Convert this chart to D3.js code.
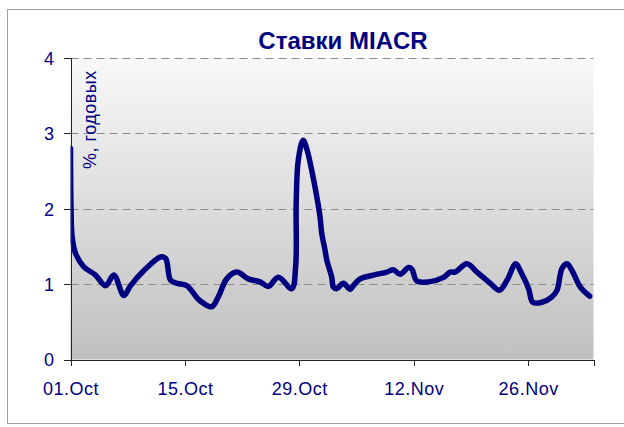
<!DOCTYPE html>
<html>
<head>
<meta charset="utf-8">
<script src="https://cdn.jsdelivr.net/npm/d3@7"></script>
<style>
  body { margin: 0; background: #ffffff; }
  svg { display: block; font-family: "Liberation Sans", Arial, sans-serif; }
  .axis path, .axis line { stroke: #222222; shape-rendering: crispEdges; }
  .axis text { fill: #000080; font-size: 18px; letter-spacing: 0.5px; }
</style>
</head>
<body>
<svg id="svg1" width="624" height="427"></svg>
<script>
var svgId = "#svg1";

// days since 01.Oct and MIACR rate (% p.a.)
var days = [0.00, 0.07, 0.20, 0.61, 1.63, 3.06, 4.29, 5.30, 6.53, 7.35,
  8.98, 11.03, 11.64, 12.25, 13.06, 14.21, 15.84, 17.27, 18.08, 19.11,
  20.34, 21.76, 23.19, 24.21, 25.43, 27.07, 27.56, 27.62, 27.88, 28.46,
  28.95, 29.52, 30.14, 30.54, 30.75, 31.15, 31.36, 31.97, 32.17, 32.59,
  33.39, 34.22, 34.62, 35.44, 37.07, 38.71, 39.52, 40.34, 41.36, 41.77,
  42.39, 43.81, 45.65, 46.47, 47.08, 48.51, 49.74, 51.37, 52.50, 53.41,
  54.49, 55.16, 56.06, 56.57, 57.70, 58.92, 59.54, 60.15, 60.76, 61.37,
  62.39, 63.53];
var rates = [2.80, 1.98, 1.63, 1.41, 1.23, 1.12, 0.98, 1.12, 0.85, 0.98,
  1.18, 1.36, 1.34, 1.05, 1.01, 0.98, 0.78, 0.70, 0.83, 1.07,
  1.16, 1.07, 1.03, 0.97, 1.09, 0.94, 1.25, 2.09, 2.65, 2.91,
  2.78, 2.51, 2.16, 1.89, 1.67, 1.45, 1.32, 1.09, 0.96, 0.94,
  1.01, 0.93, 0.98, 1.07, 1.12, 1.16, 1.19, 1.13, 1.22, 1.20,
  1.04, 1.03, 1.09, 1.16, 1.16, 1.27, 1.16, 1.01, 0.92, 1.05,
  1.27, 1.15, 0.94, 0.76, 0.76, 0.83, 0.92, 1.21, 1.27, 1.18,
  0.96, 0.84];

var xTicks = [0, 14, 28, 42, 56];
var xTickLabels = ["01.Oct", "15.Oct", "29.Oct", "12.Nov", "26.Nov"];
var yTicks = [0, 1, 2, 3, 4];

var title = "Ставки MIACR";
var yTitle = "%, годовых";

var params = {
  "svg": { "width": 624, "height": 427 },
  "plot": { "x": 70.5, "y": 58, "width": 523, "height": 301.5 }
};

var scale = {
  "x": d3.scaleLinear().domain([0, 64]).range([0, params.plot.width]),
  "y": d3.scaleLinear().domain([0, 4]).range([params.plot.height, 0])
};

var axis = {
  "x": d3.axisBottom(scale.x)
    .tickValues(xTicks)
    .tickSize(6)
    .tickPadding(17)
    .tickFormat(function(d, i) { return xTickLabels[i]; }),
  "y": d3.axisLeft(scale.y)
    .tickValues(yTicks)
    .tickSize(7)
    .tickPadding(9)
    .tickFormat(d3.format("d"))
};

translate = function(x, y) {
  return "translate(" + x + "," + y + ")";
}

var svg = d3.select(svgId);

// outer chart frame
svg.append("rect")
  .attr("x", 7.5)
  .attr("y", 9.5)
  .attr("width", 620)
  .attr("height", 414)
  .attr("fill", "#ffffff")
  .attr("stroke", "#a0a0a0")
  .attr("stroke-width", 1);

var defs = svg.append("defs");
var grad = defs.append("linearGradient")
  .attr("id", "bg")
  .attr("x1", 0).attr("y1", 0)
  .attr("x2", 0).attr("y2", 1);
grad.append("stop").attr("offset", "0%").attr("stop-color", "#f8f8f8");
grad.append("stop").attr("offset", "100%").attr("stop-color", "#c0c0c0");

defs.append("clipPath")
  .attr("id", "clip")
  .append("rect")
  .attr("x", 0)
  .attr("y", -10)
  .attr("width", params.plot.width)
  .attr("height", params.plot.height + 10);

var plot = svg.append("g")
  .attr("transform", translate(params.plot.x, params.plot.y));

plot.append("rect")
  .attr("x", 0)
  .attr("y", 0)
  .attr("width", params.plot.width)
  .attr("height", params.plot.height)
  .attr("fill", "url(#bg)");

// dashed grid lines
plot.selectAll("line.grid")
  .data(yTicks.slice(1))
  .enter()
  .append("line")
  .attr("class", "grid")
  .attr("x1", 0)
  .attr("x2", params.plot.width)
  .attr("y1", function(d) { return Math.round(scale.y(d)) + 0.5; })
  .attr("y2", function(d) { return Math.round(scale.y(d)) + 0.5; })
  .attr("stroke", "#8c8c8c")
  .attr("stroke-width", 1)
  .attr("stroke-dasharray", "8,5");

var gx = svg.append("g")
  .attr("class", "axis")
  .attr("transform", translate(params.plot.x, params.plot.y + params.plot.height))
  .call(axis.x);
gx.select(".domain").attr("stroke", "#333333");

var gy = svg.append("g")
  .attr("class", "axis")
  .attr("transform", translate(params.plot.x, params.plot.y))
  .call(axis.y);
gy.selectAll("text").attr("dy", "0.36em");

// rate line
var points = days.map(function(d, i) { return [d, rates[i]]; });
var line = d3.line()
  .x(function(d) { return scale.x(d[0]); })
  .y(function(d) { return scale.y(d[1]); })
  .curve(d3.curveCatmullRom.alpha(0.5));

plot.append("path")
  .datum(points)
  .attr("clip-path", "url(#clip)")
  .attr("d", line)
  .attr("fill", "none")
  .attr("stroke", "#000080")
  .attr("stroke-width", 5.5)
  .attr("stroke-linejoin", "round")
  .attr("stroke-linecap", "round");

svg.append("text")
  .attr("x", 343)
  .attr("y", 49)
  .attr("text-anchor", "middle")
  .attr("fill", "#000080")
  .style("font-size", "24px")
  .style("font-weight", "bold")
  .text(title);

svg.append("text")
  .attr("transform", translate(96, 169) + " rotate(-90)")
  .attr("text-anchor", "start")
  .attr("fill", "#000080")
  .style("font-size", "18px")
  .style("letter-spacing", "0.5px")
  .text(yTitle);
</script>
</body>
</html>
